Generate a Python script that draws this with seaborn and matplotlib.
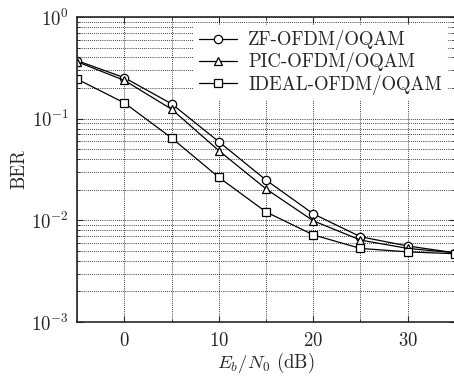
import matplotlib
matplotlib.use('Agg')
import matplotlib.pyplot as plt
import matplotlib.ticker as mticker
import pandas as pd
import seaborn as sns

# Eb/N0 values (dB) and BER curves
snr_db = [-5, 0, 5, 10, 15, 20, 25, 30, 35]
ber_zf = [0.372, 0.253, 0.140, 0.0594, 0.0249, 0.0116, 0.0069, 0.0056, 0.0048]
ber_pic = [0.363, 0.238, 0.124, 0.0485, 0.0204, 0.0099, 0.0064, 0.0053, 0.0048]
ber_ideal = [0.245, 0.143, 0.0646, 0.0265, 0.0121, 0.0072, 0.0053, 0.0049, 0.0047]
labels = ['ZF-OFDM/OQAM', 'PIC-OFDM/OQAM', 'IDEAL-OFDM/OQAM']

df = pd.DataFrame({
    'snr': snr_db * 3,
    'ber': ber_zf + ber_pic + ber_ideal,
    'scheme': [labels[0]] * 9 + [labels[1]] * 9 + [labels[2]] * 9,
})

sns.set_style('ticks')
plt.rcParams['font.family'] = ['cmr10', 'DejaVu Serif']
plt.rcParams['mathtext.fontset'] = 'cm'
plt.rcParams['axes.unicode_minus'] = False
plt.rcParams['axes.formatter.use_mathtext'] = True

fs = 13.5
fig = plt.figure(figsize=(4.54, 3.78), dpi=100)
ax = fig.add_axes([0.17, 0.148, 0.832, 0.807])

sns.lineplot(data=df, x='snr', y='ber', hue='scheme', style='scheme',
             palette=['k', 'k', 'k'], markers=['o', '^', 's'], dashes=False,
             markerfacecolor='white', markeredgecolor='k', markersize=6,
             markeredgewidth=0.9, linewidth=0.9, ax=ax)

ax.set_yscale('log')
ax.set_xlim(-5, 35)
ax.set_ylim(1e-3, 1)
ax.xaxis.set_major_locator(mticker.FixedLocator([0, 10, 20, 30]))
ax.xaxis.set_minor_locator(mticker.MultipleLocator(5))
ax.yaxis.set_major_locator(mticker.LogLocator(base=10))
ax.yaxis.set_minor_locator(mticker.LogLocator(base=10, subs=range(2, 10)))
ax.yaxis.set_minor_formatter(mticker.NullFormatter())

ax.grid(True, which='both', linestyle=(0, (1, 1.5)), color='k', linewidth=0.6)
ax.tick_params(which='both', direction='in', top=True, right=True, labelsize=fs)
ax.tick_params(axis='x', which='major', length=4, pad=7)
ax.tick_params(axis='y', which='major', length=4, pad=6)
ax.tick_params(which='minor', length=2)
for s in ax.spines.values():
    s.set_linewidth(1.2)

ax.set_xlabel(r'$E_b/N_0$ (dB)', fontsize=fs, labelpad=1)
ax.set_ylabel('BER', fontsize=fs, labelpad=2)

leg = ax.legend(loc='upper right', fontsize=fs, handlelength=2.0,
                frameon=True, fancybox=False, framealpha=1, borderaxespad=0.4,
                labelspacing=0.12, handletextpad=0.6, borderpad=0.3)
leg.get_frame().set_edgecolor('none')
leg.get_frame().set_facecolor('white')

fig.savefig('out.png', dpi=100)
